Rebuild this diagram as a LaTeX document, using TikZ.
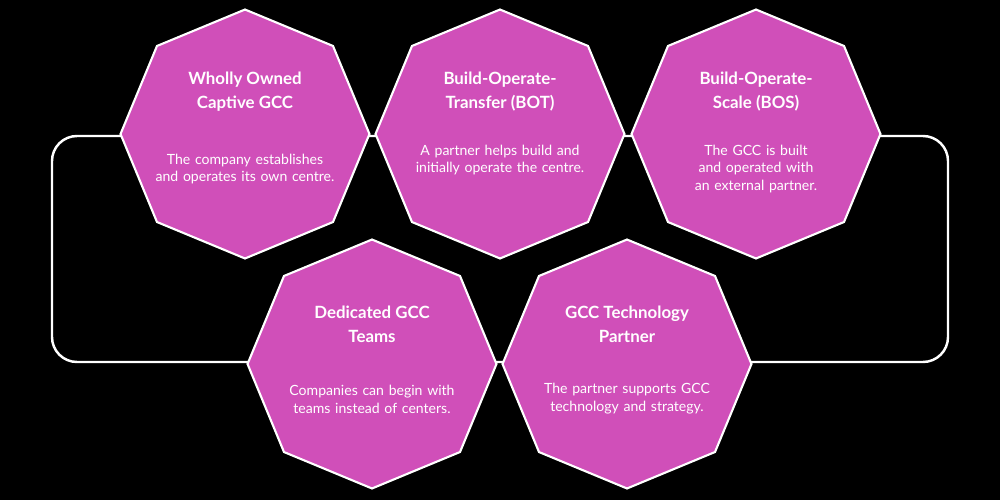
\documentclass[tikz,border=0pt]{standalone}
\usepackage{fontspec}
\setmainfont{Lato}
\usetikzlibrary{shapes.geometric,positioning}
\definecolor{octfill}{HTML}{D04FB9}
\tikzset{
  oct/.style={regular polygon, regular polygon sides=8, shape border rotate=22.5,
    minimum size=4.98cm, inner sep=0pt, fill=octfill, draw=white, line width=1.2pt},
  title/.style={text=white, font=\bfseries\fontsize{9.6}{13.6}\selectfont, align=center},
  body/.style={text=white, font=\fontsize{8}{10.2}\selectfont, align=center, text width=3.6cm}
}
\begin{document}
\begin{tikzpicture}[x=0.02cm, y=-0.02cm]
    \fill[black] (0,0) rectangle (1000,500);
    % Loop behind the octagons
    \draw[white, line width=1.4pt, rounded corners=0.5cm] (52,136) rectangle (948,362);

    % Octagons, top row
    \node[oct] (wo)  at (245,134) {};
    \node[oct] (bot) at (500,134) {};
    \node[oct] (bos) at (756,134) {};
    % Octagons, bottom row
    \node[oct] (dt)  at (372,364) {};
    \node[oct] (tp)  at (627,364) {};

    % Titles
    \node[title] (wo-t)  at (245,92) {Wholly Owned\\Captive GCC};
    \node[title] (bot-t) at (500,92) {Build-Operate-\\Transfer (BOT)};
    \node[title] (bos-t) at (756,92) {Build-Operate-\\Scale (BOS)};
    \node[title] (dt-t)  at (372,324) {Dedicated GCC\\Teams};
    \node[title] (tp-t)  at (627,324) {GCC Technology\\Partner};

    % Descriptions
    \node[body] (wo-b)  at (245,169) {The company establishes and operates its own centre.};
    \node[body] (bot-b) at (500,160) {A partner helps build and initially operate the centre.};
    \node[body] (bos-b) at (756,169) {The GCC is built and operated with an external partner.};
    \node[body] (dt-b)  at (372,399) {Companies can begin with teams instead of centers.};
    \node[body] (tp-b)  at (627,399) {The partner supports GCC technology and strategy.};
\end{tikzpicture}
\end{document}
